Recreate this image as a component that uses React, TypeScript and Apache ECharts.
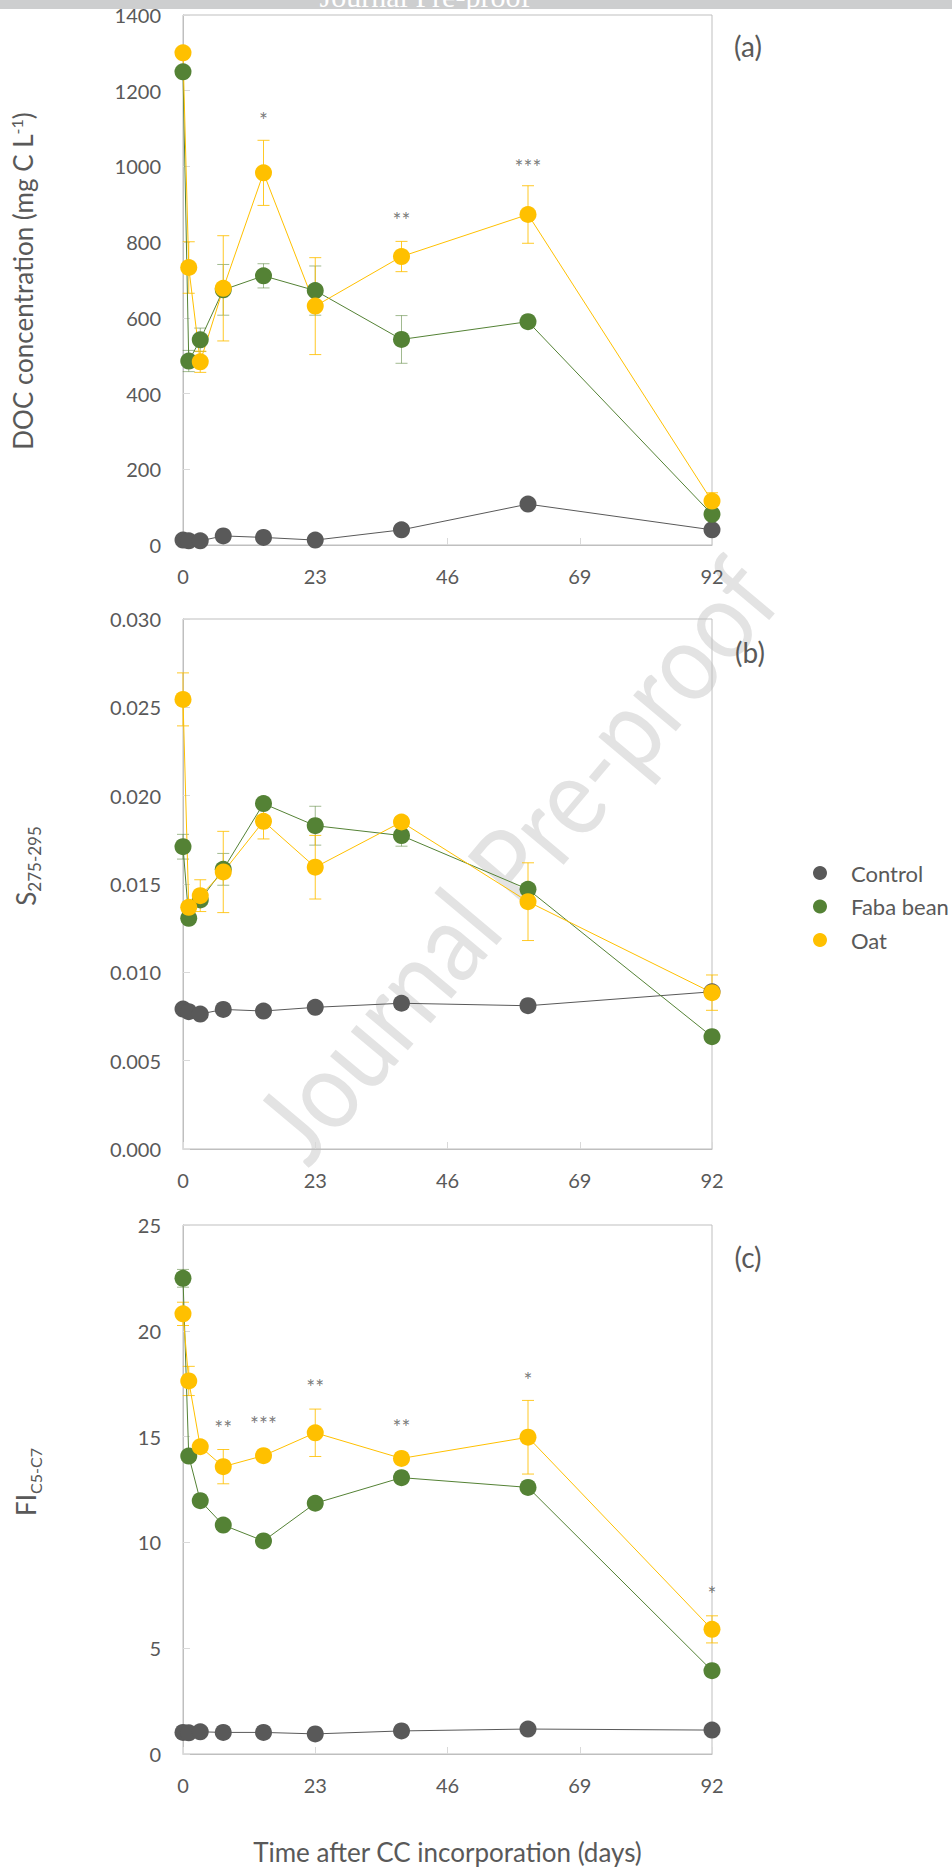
import React, { useEffect, useRef } from "react";
import * as echarts from "echarts";

// ---------- data ----------
const DAYS = [0, 1, 3, 7, 14, 23, 38, 60, 92];
const X_MAX = 92;
const X_STEP = 23;

// (a) DOC concentration (mg C L-1)
const DOC_CONTROL = [13, 11, 11, 24, 20, 13, 40, 108, 40];
const DOC_FABA = [1250, 486, 542, 674, 711, 672, 543, 590, 81];
const DOC_OAT = [1300, 733, 484, 678, 983, 631, 762, 873, 116];
const DOC_FABA_ERR = [0, 28, 31, 67, 32, 65, 63, 10, 10];
const DOC_OAT_ERR = [0, 68, 28, 139, 86, 128, 40, 76, 22];
const DOC_MAX = 1400;
const DOC_STEP = 200;
const DOC_SIG_DAYS = [14, 38, 60];
const DOC_SIG_Y = [1125, 861, 1001];
const DOC_SIG_MARKS = ["*", "**", "***"];

// (b) S275-295
const S_CONTROL = [0.00792, 0.00777, 0.00764, 0.0079, 0.00781, 0.00802, 0.00825, 0.00811, 0.0089];
const S_FABA = [0.01711, 0.01306, 0.0141, 0.01583, 0.01955, 0.0183, 0.01774, 0.0147, 0.00636];
const S_OAT = [0.02545, 0.01368, 0.01434, 0.01568, 0.01855, 0.01595, 0.01851, 0.014, 0.00885];
const S_FABA_ERR = [0.0007, 0, 0, 0.0009, 0, 0.0011, 0.0006, 0, 0];
const S_OAT_ERR = [0.0015, 0, 0.0009, 0.0023, 0.001, 0.0018, 0.0003, 0.0022, 0.001];
const S_MAX = 0.03;
const S_STEP = 0.005;

// (c) FI C5-C7
const FI_CONTROL = [1.02, 1.0, 1.05, 1.02, 1.02, 0.95, 1.09, 1.18, 1.13];
const FI_FABA = [22.48, 14.08, 11.97, 10.82, 10.07, 11.85, 13.06, 12.6, 3.94];
const FI_OAT = [20.8, 17.63, 14.52, 13.58, 14.1, 15.18, 13.97, 14.97, 5.89];
const FI_FABA_ERR = [0.42, 0, 0, 0, 0, 0, 0, 0, 0];
const FI_OAT_ERR = [0.55, 0.69, 0, 0.81, 0, 1.12, 0, 1.74, 0.64];
const FI_MAX = 25;
const FI_STEP = 5;
const FI_SIG_DAYS = [7, 14, 23, 38, 60, 92];
const FI_SIG_Y = [15.41, 15.6, 17.38, 15.49, 17.72, 7.59];
const FI_SIG_MARKS = ["**", "***", "**", "**", "*", "*"];

const SERIES_NAMES = ["Control", "Faba bean", "Oat"];
const PANEL_LABELS = ["(a)", "(b)", "(c)"];
const X_TITLE = "Time after CC incorporation (days)";

// ---------- styles ----------
const FONT = "Lato";
const TXT = "#595959";
const C_CONTROL = "#595959";
const C_FABA = "#548235";
const C_OAT = "#FFC000";
const E_FABA = "rgba(84,130,53,0.55)";
const E_OAT = "rgba(255,192,0,0.85)";
const AXIS_COLOR = "#bfbfbf";
const TICK_COLOR = "#d9d9d9";

const GRIDS = [
  { left: 183, top: 15, width: 529, height: 530 },
  { left: 183, top: 619, width: 529, height: 530 },
  { left: 183, top: 1225, width: 529, height: 529 },
];

function lineSeries(name: string, vals: number[], color: string, idx: number) {
  return {
    type: "line",
    name,
    xAxisIndex: idx,
    yAxisIndex: idx,
    data: DAYS.map((d, k) => [d, vals[k]]),
    symbol: "circle",
    symbolSize: 17,
    showSymbol: true,
    itemStyle: { color },
    lineStyle: { color, width: 1 },
    emphasis: { disabled: true },
    z: 3,
  };
}

function errSeries(name: string, vals: number[], errs: number[], color: string, idx: number) {
  const data: number[][] = [];
  DAYS.forEach((d, k) => {
    if (errs[k] > 0) data.push([d, vals[k] - errs[k], vals[k] + errs[k]]);
  });
  return {
    type: "custom",
    name,
    xAxisIndex: idx,
    yAxisIndex: idx,
    silent: true,
    z: 2,
    encode: { x: 0, y: [1, 2] },
    data,
    renderItem: (_params: any, api: any) => {
      const x = api.value(0);
      const lo = api.coord([x, api.value(1)]);
      const hi = api.coord([x, api.value(2)]);
      const w = 6;
      const style = { stroke: color, lineWidth: 1, fill: "none" };
      return {
        type: "group",
        children: [
          { type: "line", shape: { x1: lo[0], y1: lo[1], x2: hi[0], y2: hi[1] }, style },
          { type: "line", shape: { x1: lo[0] - w, y1: lo[1], x2: lo[0] + w, y2: lo[1] }, style },
          { type: "line", shape: { x1: hi[0] - w, y1: hi[1], x2: hi[0] + w, y2: hi[1] }, style },
        ],
      };
    },
  };
}

function sigSeries(name: string, days: number[], ys: number[], marks: string[], idx: number) {
  return {
    type: "scatter",
    name,
    xAxisIndex: idx,
    yAxisIndex: idx,
    silent: true,
    symbol: "circle",
    symbolSize: 1,
    itemStyle: { color: "rgba(0,0,0,0)" },
    data: days.map((d, k) => ({ name: marks[k], value: [d, ys[k]] })),
    label: {
      show: true,
      position: "inside",
      formatter: "{b}",
      fontFamily: FONT,
      fontSize: 21,
      color: TXT,
    },
    z: 4,
  };
}

function xAxis(idx: number) {
  return {
    type: "value",
    gridIndex: idx,
    min: 0,
    max: X_MAX,
    interval: X_STEP,
    axisLine: { show: true, lineStyle: { color: AXIS_COLOR, width: 1 } },
    axisTick: { show: true, inside: true, length: 7, lineStyle: { color: TICK_COLOR } },
    axisLabel: { color: TXT, fontFamily: FONT, fontSize: 20, margin: 21, hideOverlap: false },
    splitLine: { show: false },
  };
}

function yAxis(idx: number, max: number, step: number, fmt: (v: number) => string) {
  return {
    type: "value",
    gridIndex: idx,
    min: 0,
    max,
    interval: step,
    axisLine: { show: true, lineStyle: { color: AXIS_COLOR, width: 1 } },
    axisTick: { show: true, inside: true, length: 7, lineStyle: { color: TICK_COLOR } },
    axisLabel: {
      color: TXT,
      fontFamily: FONT,
      fontSize: 20,
      margin: 22,
      formatter: fmt,
    },
    splitLine: { show: false },
  };
}

function vText(x: number, y: number, text: string, rich: any) {
  return {
    type: "text",
    x,
    y,
    rotation: Math.PI / 2,
    z: 5,
    style: {
      text,
      rich,
      fill: TXT,
      fontFamily: FONT,
      fontSize: 26,
      align: "center",
      verticalAlign: "middle",
      textAlign: "center",
      textVerticalAlign: "middle",
    },
  };
}

export default function App() {
  const ref = useRef<HTMLDivElement>(null);

  useEffect(() => {
    document.body.style.margin = "0";
    if (!ref.current) return;
    const chart = echarts.init(ref.current, undefined, { renderer: "svg" });

    const richMain = { fontFamily: FONT, fontSize: 26, fill: TXT, color: TXT };
    const option: any = {
      animation: false,
      backgroundColor: "#ffffff",
      textStyle: { fontFamily: FONT },
      grid: GRIDS.map((g) => ({
        ...g,
        show: true,
        borderColor: AXIS_COLOR,
        borderWidth: 1,
        backgroundColor: "transparent",
      })),
      xAxis: [xAxis(0), xAxis(1), xAxis(2)],
      yAxis: [
        yAxis(0, DOC_MAX, DOC_STEP, (v: number) => String(v)),
        yAxis(1, S_MAX, S_STEP, (v: number) => v.toFixed(3)),
        yAxis(2, FI_MAX, FI_STEP, (v: number) => String(v)),
      ],
      legend: {
        data: SERIES_NAMES,
        orient: "vertical",
        left: 808,
        top: 857,
        icon: "circle",
        itemWidth: 14,
        itemHeight: 14,
        itemGap: 11.5,
        selectedMode: false,
        textStyle: {
          color: TXT,
          fontFamily: FONT,
          fontSize: 22,
          lineHeight: 22,
          padding: [0, 0, 0, 19],
        },
      },
      graphic: [
        // header band
        {
          type: "rect",
          z: 0,
          shape: { x: 0, y: 0, width: 952, height: 9 },
          style: { fill: "#cdcecf" },
        },
        {
          type: "text",
          x: 425,
          y: 11,
          z: 1,
          style: {
            text: "Journal Pre-proof",
            fill: "#ffffff",
            fontFamily: "Liberation Serif",
            fontSize: 30,
            align: "center",
            verticalAlign: "bottom",
            textAlign: "center",
            textVerticalAlign: "bottom",
          },
        },
        // watermark
        {
          type: "text",
          x: 514,
          y: 858,
          rotation: (50 * Math.PI) / 180,
          scaleX: 0.88,
          z: -10,
          silent: true,
          style: {
            text: "Journal Pre-proof",
            fill: "#e3e3e3",
            fontFamily: FONT,
            fontSize: 110,
            align: "center",
            verticalAlign: "middle",
            textAlign: "center",
            textVerticalAlign: "middle",
          },
        },
        // y-axis titles
        vText(23, 281, "{n|DOC concentration (mg C L}{s|-1}{n|)}", {
          n: { ...richMain, lineHeight: 30 },
          s: { fontFamily: FONT, fontSize: 16, fill: TXT, color: TXT, lineHeight: 30, verticalAlign: "top" },
        }),
        vText(26, 866, "{n|S}{s|275-295}", {
          n: { ...richMain, lineHeight: 34 },
          s: { fontFamily: FONT, fontSize: 17, fill: TXT, color: TXT, lineHeight: 34, verticalAlign: "bottom" },
        }),
        vText(26, 1482, "{n|FI}{s|C5-C7}", {
          n: { ...richMain, lineHeight: 34 },
          s: { fontFamily: FONT, fontSize: 16, fill: TXT, color: TXT, lineHeight: 34, verticalAlign: "bottom" },
        }),
        // x title
        {
          type: "text",
          x: 447.5,
          y: 1852,
          z: 5,
          style: {
            text: X_TITLE,
            fill: TXT,
            fontFamily: FONT,
            fontSize: 26,
            align: "center",
            verticalAlign: "middle",
            textAlign: "center",
            textVerticalAlign: "middle",
          },
        },
        // panel labels
        ...[
          [748, 46],
          [750, 652],
          [748, 1257],
        ].map((p, i) => ({
          type: "text",
          x: p[0],
          y: p[1],
          z: 5,
          style: {
            text: PANEL_LABELS[i],
            fill: TXT,
            fontFamily: FONT,
            fontSize: 28,
            align: "center",
            verticalAlign: "middle",
            textAlign: "center",
            textVerticalAlign: "middle",
          },
        })),
      ],
      series: [
        // (a)
        errSeries("err-doc-faba", DOC_FABA, DOC_FABA_ERR, E_FABA, 0),
        errSeries("err-doc-oat", DOC_OAT, DOC_OAT_ERR, E_OAT, 0),
        lineSeries("Control", DOC_CONTROL, C_CONTROL, 0),
        lineSeries("Faba bean", DOC_FABA, C_FABA, 0),
        lineSeries("Oat", DOC_OAT, C_OAT, 0),
        sigSeries("sig-doc", DOC_SIG_DAYS, DOC_SIG_Y, DOC_SIG_MARKS, 0),
        // (b)
        errSeries("err-s-faba", S_FABA, S_FABA_ERR, E_FABA, 1),
        errSeries("err-s-oat", S_OAT, S_OAT_ERR, E_OAT, 1),
        lineSeries("Control", S_CONTROL, C_CONTROL, 1),
        lineSeries("Faba bean", S_FABA, C_FABA, 1),
        lineSeries("Oat", S_OAT, C_OAT, 1),
        // (c)
        errSeries("err-fi-faba", FI_FABA, FI_FABA_ERR, E_FABA, 2),
        errSeries("err-fi-oat", FI_OAT, FI_OAT_ERR, E_OAT, 2),
        lineSeries("Control", FI_CONTROL, C_CONTROL, 2),
        lineSeries("Faba bean", FI_FABA, C_FABA, 2),
        lineSeries("Oat", FI_OAT, C_OAT, 2),
        sigSeries("sig-fi", FI_SIG_DAYS, FI_SIG_Y, FI_SIG_MARKS, 2),
      ],
    };

    chart.setOption(option);
    return () => {
      chart.dispose();
    };
  }, []);

  return <div ref={ref} style={{ width: 952, height: 1868 }} />;
}
